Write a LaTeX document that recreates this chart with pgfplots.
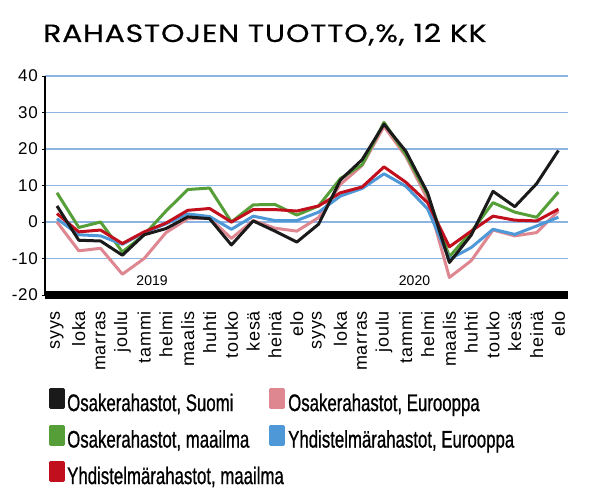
\documentclass[border=0pt]{standalone}
\usepackage{pgfplots}
\usepackage{pgfplotstable}
\pgfplotsset{compat=1.18}
\usepackage{fontspec}
\setmainfont{Liberation Sans}
\newfontfamily\titlefont[FakeStretch=1.2, LetterSpace=3, FakeBold=0.3]{Poppins}
\newfontfamily\tickfont[LetterSpace=4]{Liberation Sans}
\newfontfamily\legfont[FakeStretch=0.7, FakeBold=0.8]{Liberation Sans}

\definecolor{cblack}{HTML}{1A1A1A}
\definecolor{cpink}{HTML}{DE8791}
\definecolor{cgreen}{HTML}{559E38}
\definecolor{cblue}{HTML}{4F98D8}
\definecolor{cred}{HTML}{C20F1E}
\definecolor{cgrid}{HTML}{8DB3E0}

% kuukausituotot, %
\pgfplotstableread{
x  black  pink   green  blue   red
0   4.4    0.0    8.0    0.9    2.3
1  -5.0   -7.9   -1.5   -3.5   -2.7
2  -5.2   -7.2    0.0   -3.8   -2.2
3  -9.1  -14.3   -8.2   -6.1   -5.9
4  -3.5  -10.0   -3.5   -2.9   -2.7
5  -1.8   -2.9    3.0   -0.5   -0.3
6   1.4    0.9    8.9    2.2    3.2
7   0.9    1.1    9.3    1.5    3.7
8  -6.3   -4.5    0.0   -2.0    0.0
9   0.3    0.4    4.7    1.6    3.4
10 -2.5   -1.7    4.8    0.4    3.4
11 -5.5   -2.5    1.9    0.4    3.0
12 -0.6    1.2    4.4    2.7    4.4
13 11.5   10.3   11.9    7.1    8.0
14 17.1   15.5   15.7    9.2    9.6
15 26.8   26.2   27.3   13.2   15.1
16 19.4   18.0   18.5    9.8   10.9
17  8.0    6.2    7.5    3.6    5.3
18 -11.1 -15.2   -9.5  -10.2   -6.8
19 -3.6  -10.6   -2.7   -7.0   -2.5
20  8.4   -2.2    5.3   -2.0    1.6
21  4.2   -3.8    2.7   -3.4    0.5
22 10.5   -2.9    1.3   -1.1    0.3
23 19.6    3.0    8.2    1.3    3.5
}\tuotto

\begin{document}
\begin{tikzpicture}
  \path[use as bounding box] (0bp,0bp) rectangle (600bp,494bp);
  \node[anchor=base west, inner sep=0pt, font=\titlefont\fontsize{25bp}{28bp}\selectfont]
    at (43bp,452bp) {RAHASTOJEN TUOTTO,\%, 12 KK};

  \begin{axis}[%
    at={(45bp,199bp)}, anchor=south west,
    scale only axis,
    width=523bp, height=219bp,
    axis lines=left,
    axis line style={-},
    x axis line style={line width=7bp},
    y axis line style={line width=2bp},
    % x-akseli
    xmin=-0.55, xmax=23.44,
    xtick={0,...,23},
    xticklabels={syys,loka,marras,joulu,tammi,helmi,maalis,huhti,touko,kesä,heinä,elo,
                 syys,loka,marras,joulu,tammi,helmi,maalis,huhti,touko,kesä,heinä,elo},
    xticklabel style={rotate=90, anchor=east, inner sep=0pt,
                      font=\tickfont\fontsize{18bp}{20bp}\selectfont},
    xticklabel shift=13bp,
    x tick style={draw=none},
    % y-akseli
    ymin=-20, ymax=40,
    ytick={-20,-10,0,10,20,30,40},
    yticklabels={-20,-10,0,10,20,30,40},
    yticklabel style={anchor=east, inner sep=0pt,
                      font=\tickfont\fontsize{17bp}{20bp}\selectfont},
    yticklabel shift=4bp,
    y tick style={black, line width=1bp},
    major tick length=3bp,
    tick align=outside,
    ymajorgrids=true,
    grid style={cgrid, line width=1.3bp},
    clip=false,
    % selite
    legend columns=2,
    legend cell align=left,
    legend style={at={(0.002,-0.415)}, anchor=north west, draw=none, fill=none,
                  column sep=0pt, row sep=9.5bp,
                  nodes={inner sep=0pt, text height=17bp, text depth=4bp},
                  font=\legfont\fontsize{24bp}{26bp}\selectfont},
    every axis plot/.append style={line width=3bp, line join=round},
    ]

    \pgfplotsset{legsq/.style={legend image code/.code={\fill[##1] (0bp,-3bp) rectangle (13bp,15bp);}}}
    \addlegendimage{legsq, cblack}
    \addlegendentry{\makebox[204bp][l]{\hspace{2bp}Osakerahastot, Suomi}}
    \addlegendimage{legsq, cpink}
    \addlegendentry{\hspace{3bp}Osakerahastot, Eurooppa}
    \addlegendimage{legsq, cgreen}
    \addlegendentry{\makebox[204bp][l]{\hspace{2bp}Osakerahastot, maailma}}
    \addlegendimage{legsq, cblue}
    \addlegendentry{\hspace{3bp}Yhdistelmärahastot, Eurooppa}
    \addlegendimage{legsq, cred}
    \addlegendentry{\makebox[204bp][l]{\hspace{2bp}Yhdistelmärahastot, maailma}}

    \addplot[cpink, forget plot] table[x=x, y=pink] {\tuotto};
    \addplot[cgreen, forget plot] table[x=x, y=green] {\tuotto};
    \addplot[cblue, forget plot] table[x=x, y=blue] {\tuotto};
    \addplot[cred, forget plot] table[x=x, y=red] {\tuotto};
    \addplot[cblack, forget plot] table[x=x, y=black] {\tuotto};

    \node[font=\fontsize{14bp}{16bp}\selectfont] at (axis cs:4.36,-16.2) {2019};
    \node[font=\fontsize{14bp}{16bp}\selectfont] at (axis cs:16.4,-16.0) {2020};
  \end{axis}
\end{tikzpicture}
\end{document}
